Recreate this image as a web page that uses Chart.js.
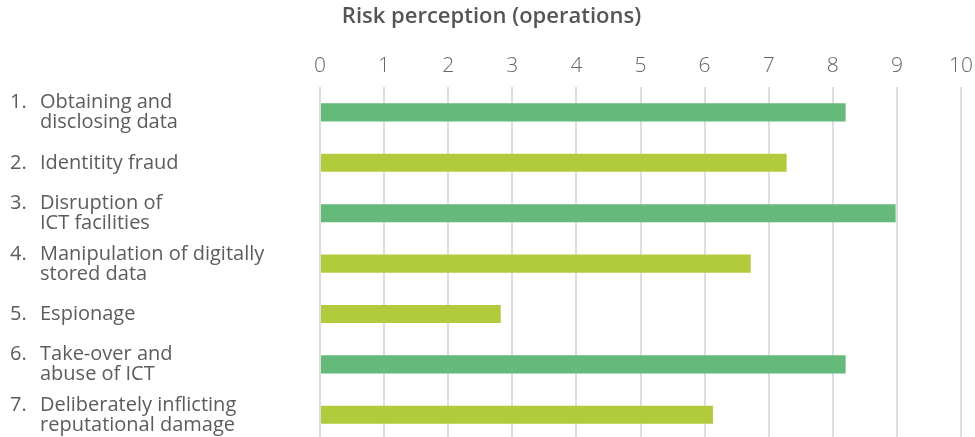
<!DOCTYPE html>
<html>
<head>
<meta charset="utf-8">
<script src="https://cdn.jsdelivr.net/npm/chart.js@4"></script>
<style>
  html, body { margin: 0; padding: 0; background: #fff; overflow: hidden; }
  #wrap { position: relative; width: 975px; height: 440px; }
</style>
</head>
<body>
<div id="wrap"><canvas id="riskChart"></canvas></div>
<script>
// Threat categories, numbered as in the list
const itemNumbers = ["1.", "2.", "3.", "4.", "5.", "6.", "7."];
const itemLabels = [
    ["Obtaining and", "disclosing data"],
    ["Identitity fraud"],
    ["Disruption of", "ICT facilities"],
    ["Manipulation of digitally", "stored data"],
    ["Espionage"],
    ["Take-over and", "abuse of ICT"],
    ["Deliberately inflicting", "reputational damage"]
];
// Perceived risk score per category (0-10)
const riskScores = [8.2, 7.28, 8.98, 6.72, 2.82, 8.2, 6.13];
// Categories shown in the darker green
const highlighted = [true, false, true, false, false, true, false];
const xTicks = [0, 1, 2, 3, 4, 5, 6, 7, 8, 9, 10];
const chartTitle = "Risk perception (operations)";

const GREEN = "#64b97b";
const LIME = "#b1cb3c";
const TEXT = "#5c5c5c";

// Title plus the numbered labels to the left of the bars
const listLabels = {
    id: "listLabels",
    afterDraw(chart) {
        const ctx = chart.ctx;
        const y = chart.scales.y;
        const lineH = 20;
        const capH = 14;
        ctx.save();

        ctx.fillStyle = "#555";
        ctx.font = "600 22px 'Open Sans'";
        ctx.textAlign = "center";
        ctx.textBaseline = "middle";
        ctx.fillText(chartTitle, chart.width / 2 + 4, 17);

        ctx.fillStyle = TEXT;
        ctx.font = "400 20px 'Open Sans'";
        ctx.textBaseline = "alphabetic";
        ctx.textAlign = "left";
        itemLabels.forEach((lines, i) => {
            const cy = y.getPixelForValue(i);
            const first = cy - (lines.length - 1) * lineH / 2 + capH / 2 - 1;
            ctx.fillText(itemNumbers[i], 10, first);
            lines.forEach((line, j) => {
                ctx.fillText(line, 40, first + j * lineH);
            });
        });
        ctx.restore();
    }
};

new Chart(document.getElementById("riskChart"), {
    type: "bar",
    data: {
        labels: itemNumbers,
        datasets: [{
            data: riskScores,
            backgroundColor: highlighted.map(h => h ? GREEN : LIME),
            borderWidth: 0,
            barPercentage: 0.36,
            categoryPercentage: 1
        }]
    },
    options: {
        indexAxis: "y",
        responsive: true,
        maintainAspectRatio: false,
        animation: false,
        layout: { padding: { left: 320, right: 0, top: 44, bottom: 0 } },
        plugins: {
            legend: { display: false },
            tooltip: { enabled: false },
            title: { display: false }
        },
        scales: {
            x: {
                position: "top",
                min: 0,
                max: 10,
                afterBuildTicks: axis => { axis.ticks = xTicks.map(v => ({ value: v })); },
                // keep the last tick label from pulling the plot in from the right
                afterFit: axis => { axis.paddingRight = 14; axis.paddingLeft = 0; },
                ticks: {
                    color: "#666",
                    font: { family: "'Open Sans'", size: 21, weight: "300" },
                    padding: 9
                },
                grid: { color: "#dedede", lineWidth: 2, drawTicks: false },
                border: { display: false }
            },
            y: {
                display: false
            }
        }
    },
    plugins: [listLabels]
});
</script>
</body>
</html>
